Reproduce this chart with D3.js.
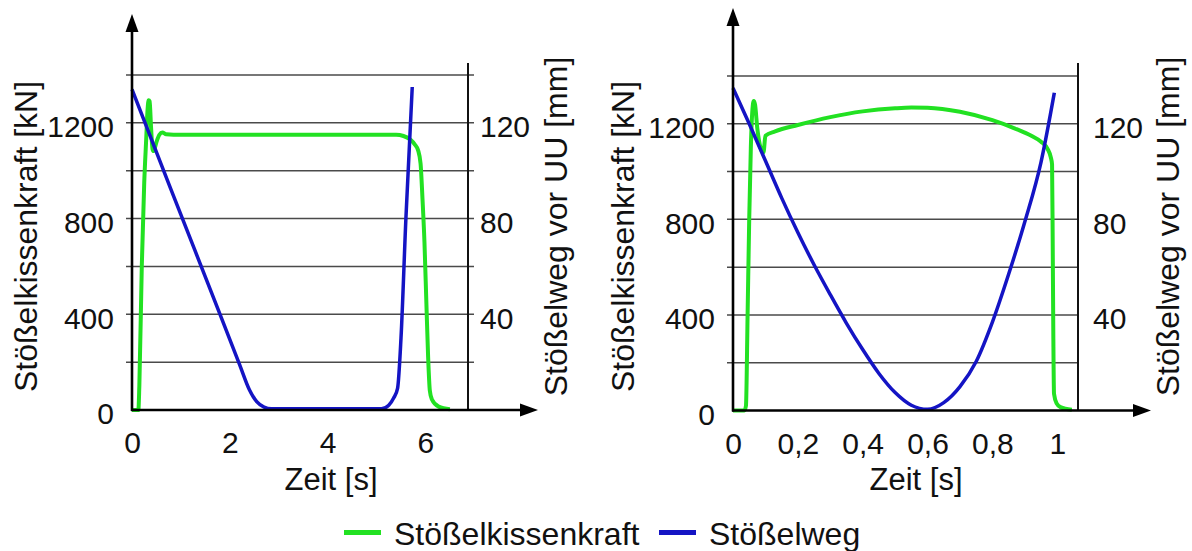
<!DOCTYPE html>
<html>
<head>
<meta charset="utf-8">
<script src="https://cdn.jsdelivr.net/npm/d3@7"></script>
<style>
  body { margin: 0; background: #fff; }
  svg { display: block; }
  text { font-family: "Liberation Sans", Arial, sans-serif; fill: #111; }
</style>
</head>
<body>
<script>
// data
var gridForce = [200, 400, 600, 800, 1000, 1200, 1400];   // kN gridlines
var forceTicks = [0, 400, 800, 1200];                       // labelled kN ticks
var strokeTicks = [40, 80, 120];                            // labelled mm ticks
var timeTicksA = [0, 2, 4, 6];
var timeTicksB = [0, 0.2, 0.4, 0.6, 0.8, 1];
var timeLabelsB = ['0', '0,2', '0,4', '0,6', '0,8', '1'];

// left panel: time [s], force [kN]
var forceA = [[0, 0], [0.13, 0], [0.15, 100], [0.2, 600], [0.25, 950], [0.29, 1130], [0.32, 1260],
    [0.34, 1295], [0.36, 1290], [0.39, 1180], [0.42, 1090], [0.44, 1082], [0.5, 1120], [0.56, 1150],
    [0.62, 1160], [0.7, 1152], [0.85, 1150], [3, 1150], [5.4, 1150], [5.55, 1145], [5.69, 1130],
    [5.78, 1110], [5.85, 1085], [5.9, 1030], [5.94, 880], [5.98, 700], [6.02, 440], [6.055, 220],
    [6.09, 80], [6.13, 45], [6.27, 14], [6.5, 3]];
// left panel: time [s], stroke before BDC [mm]
var strokeA = [[0, 134], [0.8, 92], [1.8, 40], [2.2, 19], [2.4, 8.5], [2.55, 3.5], [2.7, 1.2],
    [2.85, 0.5], [5.1, 0.5], [5.25, 2], [5.35, 5], [5.43, 9], [5.5, 30], [5.6, 80], [5.73, 135]];

// right panel
var forceB = [[0, 0], [0.035, 0], [0.04, 20], [0.045, 400], [0.05, 800], [0.055, 1100], [0.06, 1260],
    [0.064, 1295], [0.068, 1280], [0.075, 1180], [0.085, 1100], [0.094, 1080], [0.1, 1150],
    [0.13, 1168], [0.2, 1195], [0.3, 1228], [0.4, 1252], [0.5, 1265], [0.55, 1268], [0.6, 1267],
    [0.7, 1250], [0.8, 1215], [0.87, 1180], [0.92, 1150], [0.95, 1125], [0.97, 1095], [0.98, 1060],
    [0.984, 1030], [0.986, 700], [0.988, 300], [0.99, 70], [0.998, 30], [1.01, 14], [1.045, 3]];
var strokeB = [[0, 135], [0.05, 120], [0.1, 104.5], [0.15, 89], [0.2, 74.5], [0.25, 61], [0.3, 48.5],
    [0.35, 36.5], [0.4, 25.5], [0.45, 15.5], [0.5, 7.5], [0.55, 2.2], [0.6, 0.5], [0.65, 3.3],
    [0.7, 10], [0.75, 20.5], [0.8, 37], [0.85, 57], [0.9, 79], [0.95, 104], [0.991, 133]];

var seriesNames = ['Stößelkissenkraft', 'Stößelweg'];
var green = '#22e122', blue = '#1414c4';

var W = 1192, H = 551;
var svg = d3.select('body').append('svg').attr('width', W).attr('height', H);

// panel layout (pixels)
var panels = [
    {x0: 132, x1: 468, tMax: 6.87, y0: 410, y1: 75, arrowTop: 14, arrowRight: 538, gridR: 474,
     ticks: timeTicksA, labels: null, force: forceA, stroke: strokeA,
     leftTitleX: 37, rightTitleX: 567, rightPad: 12, xTitleX: 331},
    {x0: 733, x1: 1078, tMax: 1.064, y0: 410.5, y1: 76, arrowTop: 8, arrowRight: 1151, gridR: 1077,
     ticks: timeTicksB, labels: timeLabelsB, force: forceB, stroke: strokeB,
     leftTitleX: 634, rightTitleX: 1179, rightPad: 15, xTitleX: 916}
];

panels.forEach(function(p) {
    var x = d3.scaleLinear().domain([0, p.tMax]).range([p.x0, p.x1]);
    var yF = d3.scaleLinear().domain([0, 1400]).range([p.y0, p.y1]);
    var yS = d3.scaleLinear().domain([0, 140]).range([p.y0, p.y1]);
    var g = svg.append('g');

    // gridlines
    g.selectAll('.grid').data(gridForce).enter().append('line')
        .attr('x1', p.x0 - 6).attr('x2', p.gridR)
        .attr('y1', function(d) { return yF(d); })
        .attr('y2', function(d) { return yF(d); })
        .attr('stroke', '#4a4a4a').attr('stroke-width', 1.5);

    // right axis line
    g.append('line').attr('x1', p.x1).attr('x2', p.x1).attr('y1', 63).attr('y2', p.y0)
        .attr('stroke', '#111').attr('stroke-width', 2);

    // tick labels through d3 axes
    var axL = g.append('g').attr('transform', 'translate(' + p.x0 + ',0)')
        .call(d3.axisLeft(yF).tickValues(forceTicks).tickSize(0).tickPadding(18)
            .tickFormat(d3.format('d')));
    var axR = g.append('g').attr('transform', 'translate(' + p.x1 + ',0)')
        .call(d3.axisRight(yS).tickValues(strokeTicks).tickSize(0).tickPadding(p.rightPad)
            .tickFormat(d3.format('d')));
    var axB = g.append('g').attr('transform', 'translate(0,' + p.y0 + ')')
        .call(d3.axisBottom(x).tickValues(p.ticks).tickSize(0).tickPadding(22)
            .tickFormat(function(d, i) { return p.labels ? p.labels[i] : d3.format('d')(d); }));
    [axL, axR, axB].forEach(function(a) {
        a.select('.domain').remove();
        a.attr('font-size', null).attr('font-family', null);
        a.selectAll('text').style('font-size', '30px').attr('fill', '#111');
    });
    axL.selectAll('text').attr('dy', '0.46em');
    axR.selectAll('text').attr('dy', '0.46em');

    // series
    var lineF = d3.line().x(function(d) { return x(d[0]); }).y(function(d) { return yF(d[1]); })
        .curve(d3.curveMonotoneX);
    var lineS = d3.line().x(function(d) { return x(d[0]); }).y(function(d) { return yS(d[1]); })
        .curve(d3.curveMonotoneX);
    g.append('path').datum(p.force).attr('d', lineF)
        .attr('fill', 'none').attr('stroke', green).attr('stroke-width', 4)
        .attr('stroke-linejoin', 'round');
    g.append('path').datum(p.stroke).attr('d', lineS)
        .attr('fill', 'none').attr('stroke', blue).attr('stroke-width', 3.5)
        .attr('stroke-linejoin', 'round');

    // main axes with arrows
    g.append('line').attr('x1', p.x0).attr('x2', p.x0).attr('y1', p.y0 + 1).attr('y2', p.arrowTop + 16)
        .attr('stroke', '#000').attr('stroke-width', 2.6);
    g.append('path')
        .attr('d', 'M' + p.x0 + ',' + p.arrowTop + 'L' + (p.x0 - 6.5) + ',' + (p.arrowTop + 18) +
            'L' + (p.x0 + 6.5) + ',' + (p.arrowTop + 18) + 'Z')
        .attr('fill', '#000');
    g.append('line').attr('x1', p.x0 - 1).attr('x2', p.arrowRight - 16).attr('y1', p.y0).attr('y2', p.y0)
        .attr('stroke', '#000').attr('stroke-width', 2.6);
    g.append('path')
        .attr('d', 'M' + p.arrowRight + ',' + p.y0 + 'L' + (p.arrowRight - 18) + ',' + (p.y0 - 6.5) +
            'L' + (p.arrowRight - 18) + ',' + (p.y0 + 6.5) + 'Z')
        .attr('fill', '#000');

    // titles
    g.append('text').attr('transform', 'translate(' + p.leftTitleX + ',236.5) rotate(-90)')
        .attr('text-anchor', 'middle').style('font-size', '32px').text('Stößelkissenkraft [kN]');
    g.append('text').attr('transform', 'translate(' + p.rightTitleX + ',226.5) rotate(-90)')
        .attr('text-anchor', 'middle').style('font-size', '32px').text('Stößelweg vor UU [mm]');
    g.append('text').attr('x', p.xTitleX).attr('y', 490)
        .attr('text-anchor', 'middle').style('font-size', '31px').text('Zeit [s]');
});

// legend
var legend = svg.append('g');
var legendX = [344, 659];
[green, blue].forEach(function(c, i) {
    legend.append('line').attr('x1', legendX[i]).attr('x2', legendX[i] + 37)
        .attr('y1', 532.5).attr('y2', 532.5).attr('stroke', c).attr('stroke-width', 5);
    legend.append('text').attr('x', legendX[i] + 50).attr('y', 545)
        .style('font-size', '32px').text(seriesNames[i]);
});
</script>
</body>
</html>
